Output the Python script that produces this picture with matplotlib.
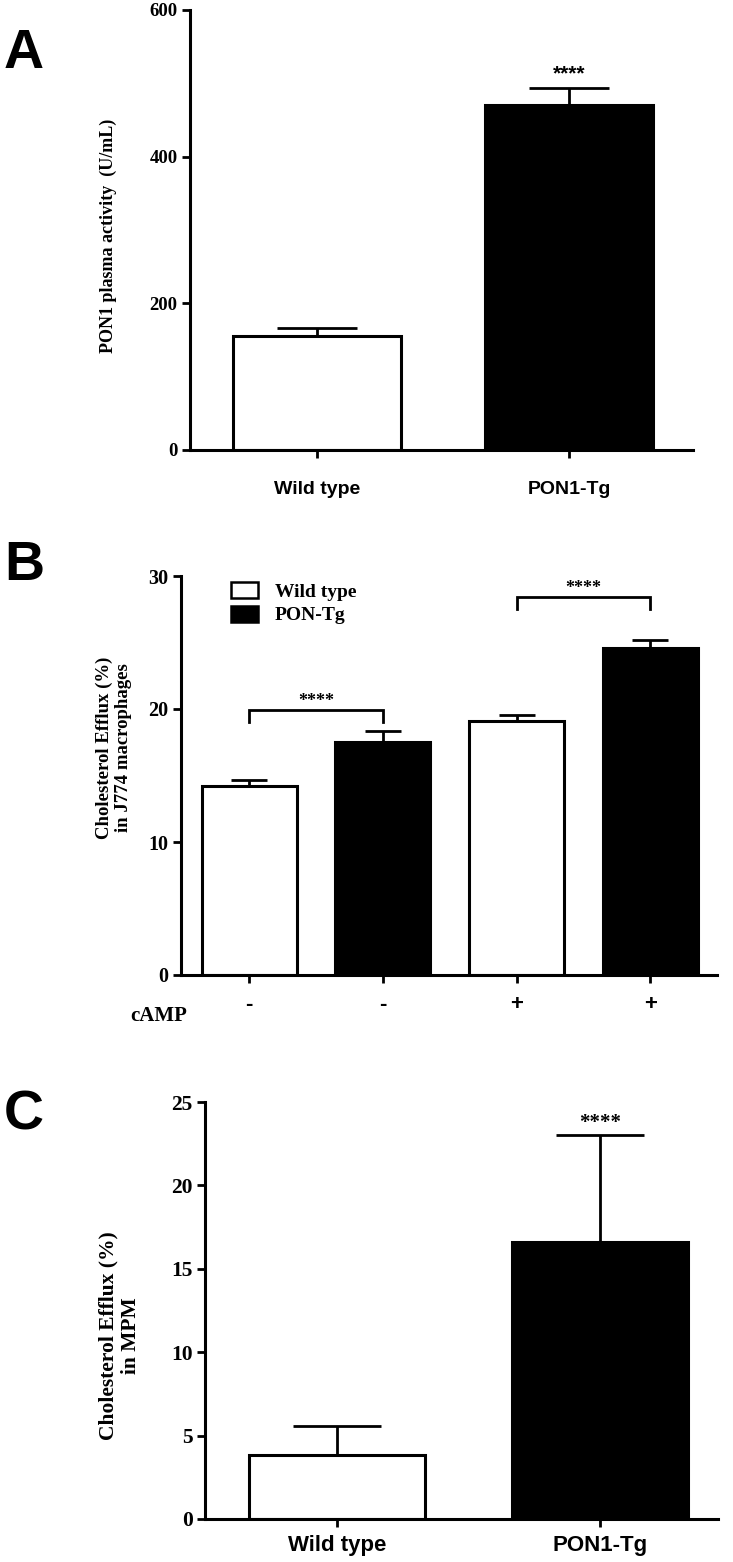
import matplotlib
matplotlib.use("Agg")
import matplotlib.pyplot as plt
from matplotlib.patches import Patch

# Panel A: PON1 plasma activity
a_groups = ["Wild type", "PON1-Tg"]
a_means = [155, 471]
a_sem = [12, 23]
a_sig = ["", "****"]

# Panel B: efflux in J774 macrophages
b_groups = ["Wild type", "PON-Tg", "Wild type", "PON-Tg"]
b_camp = ["-", "-", "+", "+"]
b_means = [14.2, 17.5, 19.1, 24.6]
b_sem = [0.45, 0.85, 0.45, 0.6]
b_brackets = [(0, 1, 19.9), (2, 3, 28.4)]

# Panel C: efflux in MPM
c_groups = ["Wild type", "PON1-Tg"]
c_means = [3.85, 16.6]
c_sem = [1.75, 6.4]
c_sig = ["", "****"]

W, H = 733, 1562
fig = plt.figure(figsize=(W / 100, H / 100), dpi=100)

SERIF = "Liberation Serif"
SANS = "Liberation Sans"
LW = 2.2


def px_axes(left, top, right, bottom):
    return fig.add_axes([left / W, 1 - bottom / H, (right - left) / W, (bottom - top) / H])


def style_axes(ax, tick_size):
    for s in ["top", "right"]:
        ax.spines[s].set_visible(False)
    for s in ["left", "bottom"]:
        ax.spines[s].set_linewidth(LW)
    ax.tick_params(axis="both", width=2, length=5.5)
    for lab in ax.get_yticklabels():
        lab.set_fontfamily(SERIF)
        lab.set_fontweight("bold")
        lab.set_fontsize(tick_size)


def colors_for(names):
    return ["white" if n.startswith("Wild") else "black" for n in names]


# ---------- A ----------
axA = px_axes(190, 10, 693, 450)
xa = range(len(a_groups))
axA.bar(xa, a_means, width=0.667, color=colors_for(a_groups), edgecolor="black",
        linewidth=LW, zorder=2)
axA.errorbar(xa, a_means, yerr=[[0] * len(a_sem), a_sem], fmt="none", ecolor="black",
             elinewidth=2, capsize=29, capthick=2, zorder=1)
for x, m, e, s in zip(xa, a_means, a_sem, a_sig):
    if s:
        axA.text(x, m + e + 6, s, ha="center", va="bottom", fontsize=15,
                 fontfamily=SANS, fontweight="bold")
axA.set_xlim(-0.504, 1.492)
axA.set_ylim(0, 600)
axA.set_yticks([0, 200, 400, 600])
axA.set_xticks(list(xa))
axA.set_xticklabels(a_groups, fontfamily=SANS, fontweight="bold", fontsize=14)
style_axes(axA, 13.5)
axA.tick_params(axis="x", pad=17)
axA.set_ylabel("PON1 plasma activity  (U/mL)", fontfamily=SERIF, fontweight="bold",
               fontsize=13)
axA.yaxis.set_label_coords(-0.145, 0.486)

# ---------- B ----------
axB = px_axes(181, 576, 717, 975)
xb = range(len(b_means))
axB.bar(xb, b_means, width=0.71, color=colors_for(b_groups), edgecolor="black",
        linewidth=LW, zorder=2)
axB.errorbar(xb, b_means, yerr=[[0] * len(b_sem), b_sem], fmt="none", ecolor="black",
             elinewidth=2, capsize=13, capthick=2, zorder=1)
for i, j, yb in b_brackets:
    axB.plot([i, i, j, j], [yb - 0.85, yb, yb, yb - 0.85], color="black", lw=2,
             solid_joinstyle="miter")
    axB.text((i + j) / 2, yb + 0.05, "****", ha="center", va="bottom", fontsize=13,
             fontfamily=SERIF, fontweight="bold")
axB.set_xlim(-0.51, 3.5)
axB.set_ylim(0, 30)
axB.set_yticks([0, 10, 20, 30])
axB.set_xticks(list(xb))
axB.set_xticklabels(b_camp, fontfamily=SANS, fontweight="bold", fontsize=16)
style_axes(axB, 14.5)
axB.tick_params(axis="x", pad=8)
axB.text(0.011, -0.103, "cAMP", transform=axB.transAxes, ha="right", va="center",
         fontfamily=SERIF, fontweight="bold", fontsize=15)
axB.set_ylabel("Cholesterol Efflux (%)\nin J774 macrophages", fontfamily=SERIF,
               fontweight="bold", fontsize=13.5, linespacing=1.15)
axB.yaxis.set_label_coords(-0.091, 0.569)
handles = [Patch(facecolor="white", edgecolor="black", linewidth=1.8, label="Wild type"),
           Patch(facecolor="black", edgecolor="black", linewidth=1.8, label="PON-Tg")]
axB.legend(handles=handles, loc="upper left", bbox_to_anchor=(0.093, 0.985), frameon=False,
           prop={"family": SERIF, "weight": "bold", "size": 14}, handlelength=1.4,
           handleheight=0.9, handletextpad=0.85, labelspacing=0.25, borderpad=0,
           borderaxespad=0)

# ---------- C ----------
axC = px_axes(205, 1102, 718, 1519)
xc = range(len(c_groups))
axC.bar(xc, c_means, width=0.67, color=colors_for(c_groups), edgecolor="black",
        linewidth=LW, zorder=2)
axC.errorbar(xc, c_means, yerr=[[0] * len(c_sem), c_sem], fmt="none", ecolor="black",
             elinewidth=2, capsize=32, capthick=2, zorder=1)
for x, m, e, s in zip(xc, c_means, c_sem, c_sig):
    if s:
        axC.text(x, m + e + 0.15, s, ha="center", va="bottom", fontsize=15,
                 fontfamily=SERIF, fontweight="bold")
axC.set_xlim(-0.502, 1.449)
axC.set_ylim(0, 25)
axC.set_yticks([0, 5, 10, 15, 20, 25])
axC.set_xticks(list(xc))
axC.set_xticklabels(c_groups, fontfamily=SANS, fontweight="bold", fontsize=16)
style_axes(axC, 15.5)
axC.tick_params(axis="x", pad=6)
axC.set_ylabel("Cholesterol Efflux (%)\nin MPM", fontfamily=SERIF, fontweight="bold",
               fontsize=15.5, linespacing=1.15)
axC.yaxis.set_label_coords(-0.125, 0.439)

# panel letters
for letter, ytop in [("A", 28), ("B", 540), ("C", 1090)]:
    fig.text(4 / W, 1 - ytop / H, letter, ha="left", va="top", fontfamily=SANS,
             fontweight="bold", fontsize=40)

fig.savefig("out.png", dpi=100)
